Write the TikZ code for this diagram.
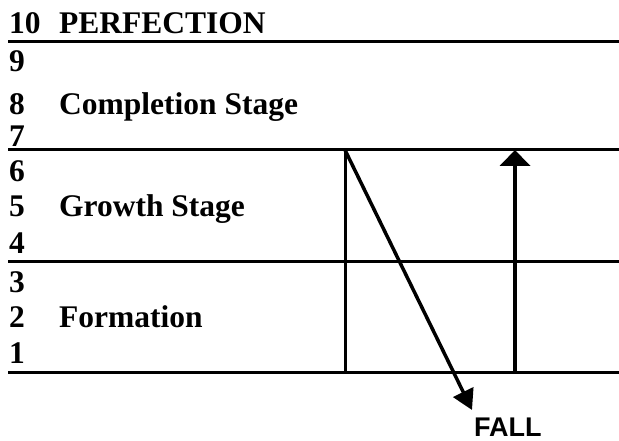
\documentclass[tikz,border=0pt]{standalone}
\usepackage{fontspec}
\setmainfont{Liberation Serif}
\newfontfamily\fallfont{Liberation Sans}
\usetikzlibrary{arrows.meta,positioning}

\begin{document}
\begin{tikzpicture}[>=Stealth,x=1pt,y=-1pt,
  level/.style={font=\fontsize{31.5}{31.5}\selectfont\bfseries,anchor=base west,inner sep=0pt},
  rule/.style={line width=3pt}]
  \useasboundingbox (0,0) rectangle (619,441);

  % Stufen 1 bis 10
  \foreach \n/\y in {10/34,9/72,8/115,7/147,6/182,5/217,4/253,3/292,2/327,1/363}
    \node[level] (n\n) at (9,\y) {\n};

  % Namen der Stufen
  \node[level] (perf) at (59,34) {PERFECTION};
  \node[level] (compl) at (59,115) {Completion Stage};
  \node[level] (growth) at (59,217) {Growth Stage};
  \node[level] (form) at (59,327) {Formation};

  % Trennlinien
  \foreach \i/\y in {a/42,b/150,c/261,d/372} {
    \coordinate (\i w) at (8,\y);
    \coordinate (\i e) at (619,\y);
    \draw[rule] (\i w) -- (\i e);
  }

  % Fall und Aufstieg
  \coordinate (top) at (345,150);
  \coordinate (foot) at (345,372);
  \coordinate (tip) at (472,410);
  \coordinate (rise) at (515,372);
  \coordinate (peak) at (515,150);
  \draw[line width=3pt] (top) -- (foot);
  \draw[line width=3.5pt,-{Triangle[width=22pt,length=20pt]}] (top) -- (tip);
  \draw[line width=4.5pt,-{Triangle[width=30pt,length=16pt]}] (rise) -- (peak);

  % Text
  \node[anchor=base west,inner sep=0pt,font=\fallfont\fontsize{27}{27}\selectfont\bfseries] (fall) at (474,436) {FALL};
\end{tikzpicture}
\end{document}
